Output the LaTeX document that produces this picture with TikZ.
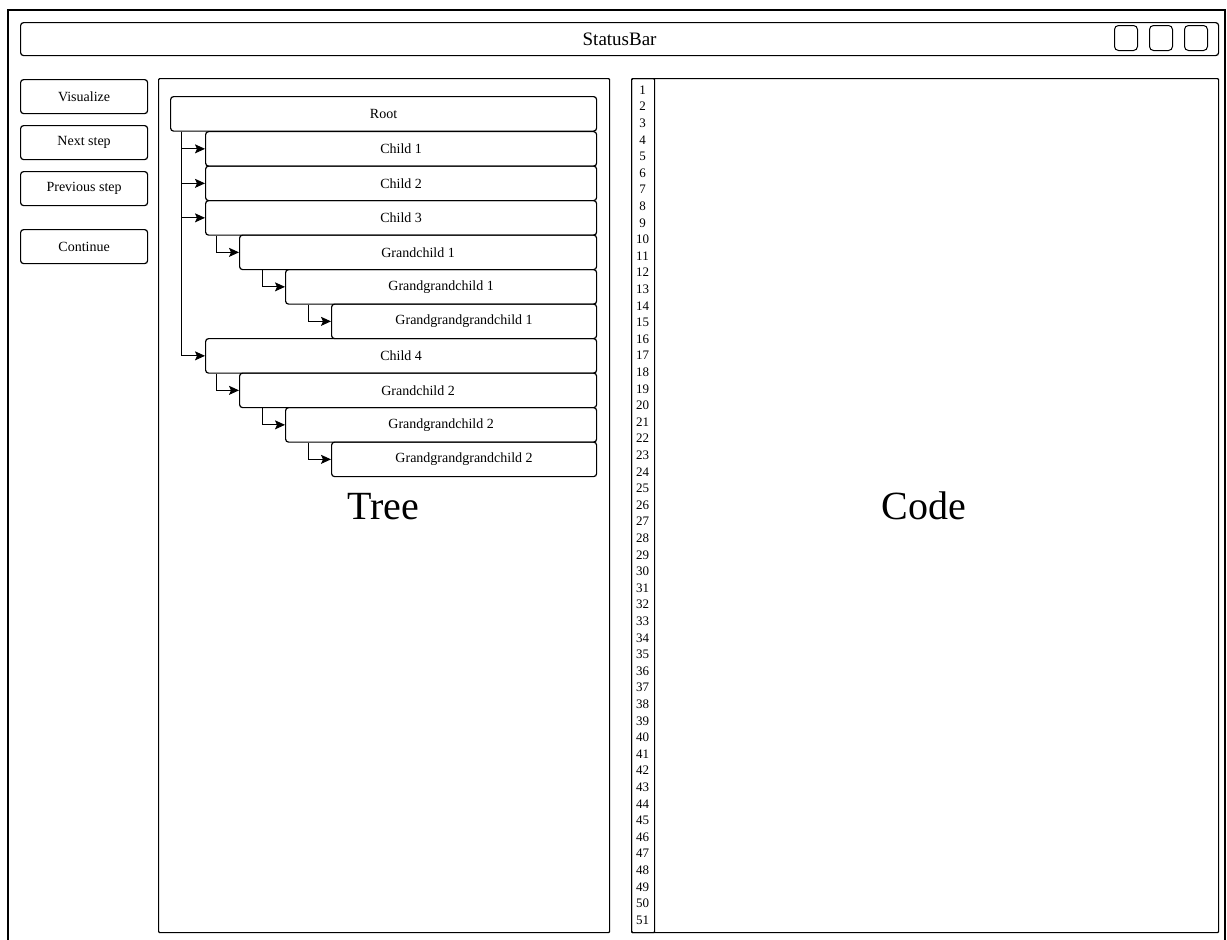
\documentclass[tikz,border=0pt]{standalone}
\usepackage{fontspec}
\setmainfont{Liberation Serif}
\usetikzlibrary{arrows.meta}
\newcommand\fsz[1]{\fontsize{#1pt}{#1pt}\selectfont}
\tikzset{
  pane/.style={draw, line width=1.2pt, rounded corners=3pt, anchor=north west, inner sep=0pt},
  btn/.style={pane, minimum width=127pt, minimum height=34pt, font=\fsz{14}},
  tnode/.style={pane, minimum height=34.5pt, font=\fsz{14}},
  sq/.style={draw, line width=1pt, rounded corners=4pt, anchor=north west, minimum width=23pt, minimum height=25pt, inner sep=0pt},
  arr/.style={line width=1pt, -{Stealth[length=10pt,width=9pt,inset=2pt]}},
  lnum/.style={font=\fsz{13}, inner sep=0pt},
  big/.style={font=\fsz{40}, anchor=base, inner sep=0pt},
}
\begin{document}
\begin{tikzpicture}[x=1pt,y=-1pt]
\useasboundingbox (0,0) rectangle (1227,940);
\clip (0,0) rectangle (1227,940);
\fill[white] (0,0) rectangle (1227,940);
% outer frame
\coordinate (fbl) at (8,950);
\coordinate (ftl) at (8,10);
\coordinate (ftr) at (1225,10);
\coordinate (fbr) at (1225,950);
\draw[line width=1.2pt] (fbl) -- (ftl) -- (ftr) -- (fbr);
% status bar
\node[pane, minimum width=1198pt, minimum height=33pt, font=\fsz{19}] (status) at (20,22) {StatusBar};
\node[sq] (sq1) at (1114,25) {};
\node[sq] (sq2) at (1149,25) {};
\node[sq] (sq3) at (1184,25) {};
% buttons
\node[btn] (visualize) at (20,79) {Visualize};
\node[btn] (next) at (20,125) {Next step};
\node[btn] (prev) at (20,171) {Previous step};
\node[btn] (cont) at (20,229) {Continue};
% panels
\node[pane, rounded corners=1pt, minimum width=451pt, minimum height=854pt] (treepane) at (158,78) {};
\node[pane, rounded corners=1pt, minimum width=587pt, minimum height=854pt] (codepane) at (631,78) {};
\node[pane, rounded corners=1pt, minimum width=23pt, minimum height=854pt] (gutter) at (631,78) {};
% tree nodes
\node[tnode, minimum width=426pt] (root) at (170,96) {Root};
\node[tnode, minimum width=391pt] (c1) at (205,131) {Child 1};
\node[tnode, minimum width=391pt] (c2) at (205,165.5) {Child 2};
\node[tnode, minimum width=391pt] (c3) at (205,200) {Child 3};
\node[tnode, minimum width=357pt] (gc1) at (239,234.5) {Grandchild 1};
\node[tnode, minimum width=311pt] (ggc1) at (285,269) {Grandgrandchild 1};
\node[tnode, minimum width=265pt] (gggc1) at (331,303.5) {Grandgrandgrandchild 1};
\node[tnode, minimum width=391pt] (c4) at (205,338) {Child 4};
\node[tnode, minimum width=357pt] (gc2) at (239,372.5) {Grandchild 2};
\node[tnode, minimum width=311pt] (ggc2) at (285,407) {Grandgrandchild 2};
\node[tnode, minimum width=265pt] (gggc2) at (331,441.5) {Grandgrandgrandchild 2};
% connectors
\draw[arr] ([xshift=11.5pt]root.south west) |- (c1.west);
\draw[arr] ([xshift=11.5pt]root.south west) |- (c2.west);
\draw[arr] ([xshift=11.5pt]root.south west) |- (c3.west);
\draw[arr] ([xshift=11.5pt]root.south west) |- (c4.west);
\draw[arr] ([xshift=11.5pt]c3.south west) |- (gc1.west);
\draw[arr] ([xshift=23pt]gc1.south west) |- (ggc1.west);
\draw[arr] ([xshift=23pt]ggc1.south west) |- (gggc1.west);
\draw[arr] ([xshift=11.5pt]c4.south west) |- (gc2.west);
\draw[arr] ([xshift=23pt]gc2.south west) |- (ggc2.west);
\draw[arr] ([xshift=23pt]ggc2.south west) |- (gggc2.west);
% big labels
\node[big] (treelbl) at (383,519) {Tree};
\node[big] (codelbl) at (924,519) {Code};
% line numbers
\foreach \i in {1,...,51} {
  \node[lnum] (n\i) at (642.5,{90+16.6*(\i-1)}) {\i};
}
\end{tikzpicture}
\end{document}
